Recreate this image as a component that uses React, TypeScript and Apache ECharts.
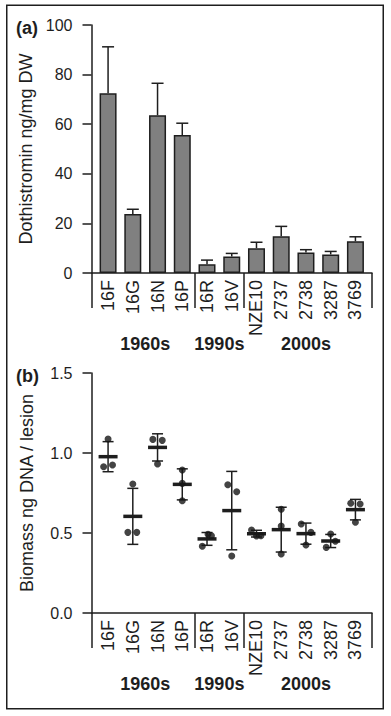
import React, { useEffect, useRef } from "react";
import * as echarts from "echarts";

// ---------- data ----------
const categories = ["16F", "16G", "16N", "16P", "16R", "16V", "NZE10", "2737", "2738", "3287", "3769"];
const decadeNames = ["1960s", "1990s", "2000s"];
const decadeSpans = [
  [0, 3],
  [4, 5],
  [6, 10],
];

// panel (a): Dothistromin ng/mg DW, mean and upper error
const dothistromin = [72.5, 23.8, 63.6, 55.6, 3.5, 6.7, 10.0, 14.8, 8.3, 7.5, 12.8];
const dothistrominErr = [18.7, 1.9, 12.9, 4.8, 1.7, 1.2, 2.4, 4.0, 1.1, 1.2, 1.8];
const dothTicks = { min: 0, max: 100, step: 20 };

// panel (b): Biomass ng DNA / lesion, individual replicates
const biomassPoints = [
  [1.087, 0.914, 0.925],
  [0.806, 0.504, 0.504],
  [1.085, 1.079, 0.931],
  [0.894, 0.81, 0.702],
  [0.417, 0.492, 0.483],
  [0.802, 0.758, 0.356],
  [0.519, 0.481, 0.483],
  [0.648, 0.544, 0.369],
  [0.556, 0.504, 0.425],
  [0.494, 0.448, 0.41],
  [0.686, 0.681, 0.567],
];
// horizontal jitter of each replicate, in category units
const biomassJitter = [
  [0, -0.18, 0.18],
  [0, -0.2, 0.16],
  [-0.19, 0.19, 0],
  [0, 0, 0],
  [-0.19, 0.04, 0.18],
  [-0.16, 0.2, 0],
  [-0.2, 0, 0.18],
  [0, 0, 0],
  [-0.19, 0.2, 0],
  [0, 0.19, -0.18],
  [-0.19, 0.19, 0],
];
const biomassMean = [0.977, 0.604, 1.035, 0.804, 0.463, 0.64, 0.496, 0.521, 0.496, 0.45, 0.646];
const biomassSD = [0.094, 0.175, 0.085, 0.097, 0.04, 0.245, 0.021, 0.14, 0.066, 0.041, 0.064];
const biomassTicks = { min: 0, max: 1.5, step: 0.5 };

// ---------- style ----------
const INK = "#1e1e1e";
const FONT = "'Liberation Sans', Arial, Helvetica, sans-serif";
const BAR_FILL = "#808080";
const X_MIN = -0.67;
const X_MAX = 10.67;

const dividerValues = [
  X_MIN,
  ...decadeSpans.slice(0, -1).map((s, i) => (s[1] + decadeSpans[i + 1][0]) / 2),
  X_MAX,
];

function makeXAxis(gridIndex: number) {
  return {
    type: "value",
    gridIndex,
    min: X_MIN,
    max: X_MAX,
    splitLine: { show: false },
    axisLine: { show: true, onZero: false, lineStyle: { color: INK, width: 1.5 } },
    axisTick: {
      show: true,
      customValues: dividerValues,
      length: 35,
      lineStyle: { color: INK, width: 1.5 },
    },
    axisLabel: {
      show: true,
      customValues: categories.map((_, i) => i),
      formatter: (v: number) => categories[Math.round(v)] ?? "",
      rotate: 90,
      margin: 7,
      fontSize: 18,
      color: INK,
      fontFamily: FONT,
    },
  };
}

function makeYAxis(gridIndex: number, name: string, t: { min: number; max: number; step: number }, digits: number) {
  return {
    type: "value",
    gridIndex,
    min: t.min,
    max: t.max,
    interval: t.step,
    name,
    nameLocation: "middle",
    nameGap: 56,
    nameTextStyle: { fontSize: 18, color: INK, fontFamily: FONT },
    splitLine: { show: false },
    axisLine: { show: true, onZero: false, lineStyle: { color: INK, width: 1.5 } },
    axisTick: { show: true, length: 9, lineStyle: { color: INK, width: 1.5 } },
    axisLabel: {
      fontSize: 16,
      margin: 19,
      color: INK,
      fontFamily: FONT,
      formatter: (v: number) => v.toFixed(digits),
    },
  };
}

function decadeLabelSeries(axisIndex: number) {
  return {
    type: "custom",
    xAxisIndex: axisIndex,
    yAxisIndex: axisIndex,
    clip: false,
    silent: true,
    data: decadeSpans.map((s) => [(s[0] + s[1]) / 2, 0]),
    renderItem: (params: any, api: any) => {
      const p = api.coord([api.value(0), api.value(1)]);
      return {
        type: "text",
        x: p[0],
        y: p[1] + 71,
        style: {
          text: decadeNames[params.dataIndex],
          fill: INK,
          font: `bold 18px ${FONT}`,
          align: "center",
          verticalAlign: "middle",
        },
      };
    },
  };
}

export default function App() {
  const ref = useRef<HTMLDivElement>(null);

  useEffect(() => {
    if (!ref.current) return;
    const chart = echarts.init(ref.current, null, { renderer: "svg" });

    const scatterData: number[][] = [];
    biomassPoints.forEach((pts, i) =>
      pts.forEach((v, j) => scatterData.push([i + biomassJitter[i][j], v]))
    );

    const option = {
      animation: false,
      backgroundColor: "#ffffff",
      textStyle: { fontFamily: FONT },
      grid: [
        { left: 91.5, top: 25, width: 280.5, height: 248 },
        { left: 91.5, top: 373, width: 280.5, height: 240 },
      ],
      xAxis: [makeXAxis(0), makeXAxis(1)],
      yAxis: [
        makeYAxis(0, "Dothistromin ng/mg DW", dothTicks, 0),
        makeYAxis(1, "Biomass ng DNA / lesion", biomassTicks, 1),
      ],
      graphic: [
        {
          type: "rect",
          shape: { x: 6.75, y: 5.25, width: 376.5, height: 703.5 },
          style: { fill: "none", stroke: INK, lineWidth: 1.5 },
          silent: true,
        },
        {
          type: "text",
          left: 16,
          top: 19,
          style: { text: "(a)", fill: INK, font: `bold 18px ${FONT}` },
        },
        {
          type: "text",
          left: 16,
          top: 367,
          style: { text: "(b)", fill: INK, font: `bold 18px ${FONT}` },
        },
      ],
      series: [
        {
          type: "bar",
          xAxisIndex: 0,
          yAxisIndex: 0,
          barWidth: 17,
          data: dothistromin.map((v, i) => [i, v]),
          itemStyle: { color: BAR_FILL, borderColor: INK, borderWidth: 1.5 },
          z: 2,
        },
        {
          type: "custom",
          xAxisIndex: 0,
          yAxisIndex: 0,
          clip: false,
          data: dothistromin.map((v, i) => [i, v, dothistrominErr[i]]),
          renderItem: (params: any, api: any) => {
            const x = api.value(0);
            const y = api.value(1);
            const e = api.value(2);
            const p0 = api.coord([x, y]);
            const p1 = api.coord([x, y + e]);
            const st = { stroke: INK, lineWidth: 1.5 };
            return {
              type: "group",
              children: [
                { type: "line", shape: { x1: p0[0], y1: p0[1], x2: p1[0], y2: p1[1] }, style: st },
                { type: "line", shape: { x1: p1[0] - 6, y1: p1[1], x2: p1[0] + 6, y2: p1[1] }, style: st },
              ],
            };
          },
          z: 3,
        },
        decadeLabelSeries(0),
        {
          type: "custom",
          xAxisIndex: 1,
          yAxisIndex: 1,
          clip: false,
          data: biomassMean.map((m, i) => [i, m, biomassSD[i]]),
          renderItem: (params: any, api: any) => {
            const x = api.value(0);
            const m = api.value(1);
            const sd = api.value(2);
            const pm = api.coord([x, m]);
            const pt = api.coord([x, m + sd]);
            const pb = api.coord([x, m - sd]);
            const st = { stroke: INK, lineWidth: 1.5 };
            return {
              type: "group",
              children: [
                { type: "line", shape: { x1: pt[0], y1: pt[1], x2: pb[0], y2: pb[1] }, style: st },
                { type: "line", shape: { x1: pt[0] - 5.5, y1: pt[1], x2: pt[0] + 5.5, y2: pt[1] }, style: st },
                { type: "line", shape: { x1: pb[0] - 5.5, y1: pb[1], x2: pb[0] + 5.5, y2: pb[1] }, style: st },
                {
                  type: "rect",
                  shape: { x: pm[0] - 9.5, y: pm[1] - 1.75, width: 19, height: 3.5 },
                  style: { fill: INK },
                },
              ],
            };
          },
          z: 3,
        },
        {
          type: "scatter",
          xAxisIndex: 1,
          yAxisIndex: 1,
          symbol: "circle",
          symbolSize: 7,
          data: scatterData,
          itemStyle: { color: "#151515" },
          z: 4,
        },
        decadeLabelSeries(1),
      ],
    };

    chart.setOption(option as any);
    return () => chart.dispose();
  }, []);

  return (
    <div
      ref={ref}
      style={{ position: "absolute", left: 0, top: 0, width: 391, height: 716, background: "#fff" }}
    />
  );
}
